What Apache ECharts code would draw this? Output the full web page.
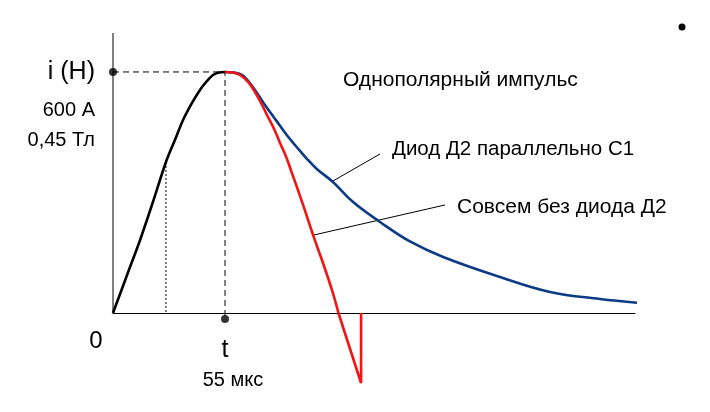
<!DOCTYPE html>
<html><head><meta charset="utf-8">
<script src="https://cdn.jsdelivr.net/npm/echarts@6/dist/echarts.min.js"></script>
<style>html,body{margin:0;padding:0;background:#fff}#c{width:710px;height:412px}</style>
</head><body><div id="c"></div>
<script>
// time in µs, current in A
const riseCurve = [[0,0],[6.9,94.6],[13.3,181.7],[19.6,276.3],[26.0,375.9],[30.4,430.7],[34.4,480.5],[38.8,522.8],[42.7,555.2],[46.2,577.6],[49.1,592.5],[52.0,598.8],[55.0,600]];
const noDiodeCurve = [[55,600],[58.9,598.8],[62.4,592.5],[66.3,575.1],[69.7,550.2],[72.7,522.8],[75.6,492.9],[79.1,458.1],[82.0,423.2],[84.9,390.0],[87.6,352.0],[90.4,312.0],[93.2,271.0],[95.9,230.0],[98.5,190.0],[103.1,124.5],[107.5,57.3],[110.7,0]];
const noDiodeTail = [[110.7,0],[121.8,-174.3],[121.8,0]];
const diodeCurve = [[55,600],[58.9,598.8],[63.3,592.5],[66.8,575.1],[70.7,547.7],[74.6,517.8],[78.6,490.0],[82.0,466.0],[85.5,442.0],[90.4,412.0],[95.0,385.0],[100.2,358.0],[108.0,326.1],[117.9,276.0],[131.1,226.6],[145.8,178.0],[162.1,139.4],[190.0,89.6],[214.6,52.3],[239.1,34.9],[258.8,24.9]];
const peakGuide = [[0,600],[55,600],[55,-15]];
const halfGuide = [[26.0,375.9],[26.0,0]];
const guideDots = [[0,600],[55,-15]];
const yAxisLine = [[0,0],[0,697]];
const leaderDiode = [[108.0,328.6],[131.1,395.8]];
const leaderNoDiode = [[98.7,194.2],[163.0,268.9]];
const xMax = 256.3, yMin = -174.3, yMax = 697;

const F = 'Liberation Sans, Arial, sans-serif';
const chart = echarts.init(document.getElementById('c'), null, {renderer:'canvas'});
function plain(data, color, width, type, z, smooth){
  return {type:'line', data, symbol:'none', clip:false, silent:true, z:z||2, smooth:smooth||false,
    lineStyle:{color, width, type:type||'solid'}, animation:false};
}
function label(text, x, cy, size, align){
  return {type:'text', x:x, y:cy, style:{text, font:size+'px '+F, fill:'#000', textAlign:align||'left', textVerticalAlign:'middle'}};
}
chart.setOption({
  animation:false,
  grid:{left:113, right:75, top:33, bottom:29},
  xAxis:{type:'value', min:0, max:xMax, axisLine:{show:true, onZero:true, lineStyle:{color:'#000', width:1}},
    axisTick:{show:false}, axisLabel:{show:false}, splitLine:{show:false}},
  yAxis:{type:'value', min:yMin, max:yMax, axisLine:{show:false}, axisTick:{show:false}, axisLabel:{show:false}, splitLine:{show:false}},
  series:[
    plain(yAxisLine,'#000',1),
    plain(peakGuide,'#000',1,[6,4]),
    plain(halfGuide,'#000',1,[2,2]),
    plain(leaderDiode,'#000',1),
    plain(leaderNoDiode,'#000',1),
    plain(riseCurve,'#000',2.6,'solid',3,0.3),
    plain(diodeCurve,'#0c3a85',2.6,'solid',3,0.4),
    plain(noDiodeCurve,'#f41212',2.6,'solid',4,0.4),
    plain(noDiodeTail,'#f41212',2.6,'solid',4),
    {type:'scatter', data:guideDots, symbolSize:8, itemStyle:{color:'#000'}, z:5, silent:true}
  ],
  graphic:[
    label('i (H)', 95, 72, 25, 'right'),
    label('600 A', 95, 110, 20, 'right'),
    label('0,45 Тл', 95, 140, 20, 'right'),
    label('0', 96, 341, 24, 'center'),
    label('t', 225, 350, 25, 'center'),
    label('55 мкс', 233, 380, 20, 'center'),
    label('Однополярный импульс', 343, 80, 21),
    label('Диод Д2 параллельно С1', 392, 149, 20.5),
    label('Совсем без диода Д2', 457, 207, 21),
    {type:'circle', shape:{cx:682, cy:27, r:3.5}, style:{fill:'#000'}}
  ]
});
</script></body></html>
